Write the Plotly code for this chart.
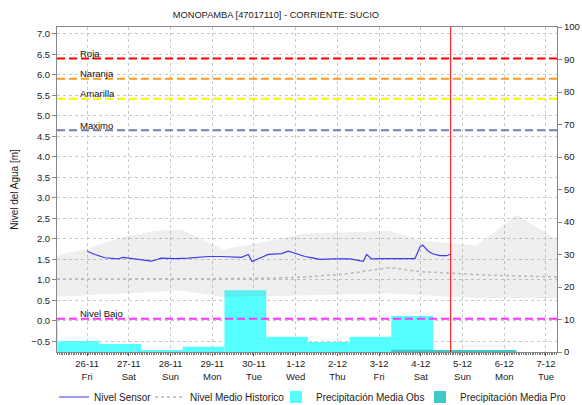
import plotly.graph_objects as go

# --- Nivel del sensor (m) ---
sensor_time = ["2021-11-26 00:00", "2021-11-26 04:26", "2021-11-26 10:12", "2021-11-26 17:53",
               "2021-11-26 20:46", "2021-11-27 03:27", "2021-11-27 13:03", "2021-11-27 15:56",
               "2021-11-27 18:26", "2021-11-28 02:28", "2021-11-28 10:08", "2021-11-28 21:39",
               "2021-11-29 05:21", "2021-11-29 16:52", "2021-11-29 20:40", "2021-11-29 22:58",
               "2021-11-30 04:22", "2021-11-30 08:11", "2021-11-30 15:53", "2021-11-30 19:41",
               "2021-11-30 23:33", "2021-12-01 05:18", "2021-12-01 08:11", "2021-12-01 13:56",
               "2021-12-01 21:36", "2021-12-02 07:12", "2021-12-02 14:51", "2021-12-02 16:48",
               "2021-12-02 19:41", "2021-12-03 04:19", "2021-12-03 20:37", "2021-12-03 23:28",
               "2021-12-04 01:02", "2021-12-04 04:15", "2021-12-04 07:08", "2021-12-04 10:59",
               "2021-12-04 14:51", "2021-12-04 17:10"]
sensor_level = [1.70, 1.62, 1.54, 1.51, 1.55, 1.51, 1.46, 1.49, 1.53, 1.52, 1.53, 1.57,
                1.57, 1.55, 1.62, 1.45, 1.55, 1.62, 1.64, 1.70, 1.65, 1.57, 1.55, 1.50,
                1.51, 1.51, 1.45, 1.62, 1.51, 1.52, 1.52, 1.80, 1.85, 1.70, 1.63, 1.59,
                1.59, 1.63]

# --- Nivel medio histórico (m) ---
hist_time = ["2021-11-25 06:40", "2021-11-27 00:00", "2021-11-29 00:00", "2021-11-30 12:00",
             "2021-12-01 06:00", "2021-12-02 06:00", "2021-12-03 06:00", "2021-12-04 00:00",
             "2021-12-05 12:00", "2021-12-07 06:20"]
hist_mean = [1.02, 1.02, 1.03, 1.04, 1.07, 1.15, 1.30, 1.20, 1.12, 1.07]

# --- Banda histórica (mín / máx) ---
band_hi_time = ["2021-11-25 06:40", "2021-11-26 00:00", "2021-11-26 19:58", "2021-11-27 14:58",
                "2021-11-28 06:20", "2021-11-29 06:16", "2021-11-30 00:31", "2021-12-01 05:18",
                "2021-12-03 06:13", "2021-12-03 23:28", "2021-12-05 08:07", "2021-12-06 07:08",
                "2021-12-07 02:18", "2021-12-07 06:20"]
band_hi = [1.60, 1.76, 2.04, 2.19, 2.23, 1.74, 1.88, 2.13, 2.19, 1.96, 1.84, 2.59, 2.09, 2.00]
band_lo_time = ["2021-11-25 06:40", "2021-11-28 06:20", "2021-11-29 06:16", "2021-12-01 05:18",
                "2021-12-03 06:13", "2021-12-05 08:07", "2021-12-07 06:20"]
band_lo = [0.59, 0.74, 0.58, 0.62, 0.67, 0.56, 0.56]

# --- Precipitación diaria (07:00 a 07:00) ---
obs_start = ["2021-11-24 07:00", "2021-11-25 07:00", "2021-11-26 07:00", "2021-11-27 07:00",
             "2021-11-28 07:00", "2021-11-29 07:00", "2021-11-30 07:00", "2021-12-01 07:00",
             "2021-12-02 07:00", "2021-12-03 07:00"]
obs_precip = [9.6, 3.4, 2.5, 0.4, 1.6, 19.0, 4.7, 3.1, 4.7, 11.1]
pro_start = ["2021-12-03 07:00", "2021-12-04 07:00", "2021-12-05 07:00"]
pro_precip = [0.7, 0.45, 0.45]

# --- Umbrales (m) ---
thr_names = ["Roja", "Naranja", "Amarilla", "Maximo", "Nivel Bajo"]
thr_values = [6.40, 5.91, 5.42, 4.65, 0.05]
thr_colors = ["#ff0000", "#ff9a1a", "#f5f500", "#7080a8", "#ff33ff"]

now_time = "2021-12-04 17:10"

# --- Eje x ---
day_ticks = ["2021-11-26", "2021-11-27", "2021-11-28", "2021-11-29", "2021-11-30", "2021-12-01",
             "2021-12-02", "2021-12-03", "2021-12-04", "2021-12-05", "2021-12-06", "2021-12-07"]
day_labels = ["26-11<br>Fri", "27-11<br>Sat", "28-11<br>Sun", "29-11<br>Mon", "30-11<br>Tue",
              "1-12<br>Wed", "2-12<br>Thu", "3-12<br>Fri", "4-12<br>Sat", "5-12<br>Sun",
              "6-12<br>Mon", "7-12<br>Tue"]

DAY_MS = 86400000
FONT = "Liberation Sans, Arial, sans-serif"
W, H = 582, 405

fig = go.Figure()

# Precipitation bars on the right-hand axis (y)
fig.add_trace(go.Bar(x=obs_start, y=obs_precip, width=[DAY_MS] * len(obs_start), offset=0,
                     marker=dict(color="#55ffff", line=dict(width=0)),
                     name="Precipitación Media Obs", yaxis="y", legend="legend3"))
fig.add_trace(go.Bar(x=pro_start, y=pro_precip, width=[DAY_MS] * len(pro_start), offset=0,
                     marker=dict(color="#3fc8c8", line=dict(width=0)),
                     name="Precipitación Media Pro", yaxis="y", legend="legend4"))

# Level traces on the left-hand axis (y2), drawn over the bars
fig.add_trace(go.Scatter(x=band_lo_time, y=band_lo, mode="lines", line=dict(width=0),
                         showlegend=False, hoverinfo="skip", yaxis="y2"))
fig.add_trace(go.Scatter(x=band_hi_time, y=band_hi, mode="lines", line=dict(width=0),
                         fill="tonexty", fillcolor="rgba(120,120,120,0.12)",
                         showlegend=False, hoverinfo="skip", yaxis="y2"))
fig.add_trace(go.Scatter(x=hist_time, y=hist_mean, mode="lines",
                         line=dict(color="#b8b8b8", width=1.5, dash="3px,3px"),
                         name="Nivel Medio Historico", yaxis="y2", legend="legend2"))
fig.add_trace(go.Scatter(x=sensor_time, y=sensor_level, mode="lines",
                         line=dict(color="#3b3bf0", width=1.2),
                         name="Nivel Sensor", yaxis="y2", legend="legend"))

# Threshold lines and labels
for name, val, col in zip(thr_names, thr_values, thr_colors):
    fig.add_shape(type="line", xref="paper", x0=0, x1=1, yref="y2", y0=val, y1=val,
                  line=dict(color=col, width=2, dash="8px,4px"), layer="above")
    fig.add_annotation(xref="paper", x=0.042, yref="y2", y=val, text=name, showarrow=False,
                       xanchor="left", yanchor="middle", yshift=5,
                       font=dict(family=FONT, size=9.5, color="#111"))

# Current time marker
fig.add_shape(type="line", xref="x", x0=now_time, x1=now_time, yref="paper", y0=0, y1=1,
              line=dict(color="#ff0000", width=1), layer="above")


def legend_at(px_left):
    # one-entry legend placed along the bottom strip
    return dict(orientation="h", xref="container", x=px_left / W, xanchor="left",
                yref="container", y=1 - 397 / H, yanchor="middle", itemwidth=30,
                font=dict(family=FONT, size=10, color="#222"), bgcolor="rgba(0,0,0,0)",
                borderwidth=0)


grid_col = "#c8c8c8"
fig.update_layout(
    width=W, height=H,
    margin=dict(l=57, r=25, t=27, b=53, autoexpand=False),
    paper_bgcolor="white", plot_bgcolor="white",
    font=dict(family=FONT, size=10, color="#222"),
    title=dict(text="MONOPAMBA [47017110] - CORRIENTE: SUCIO", x=0.474, xanchor="center",
               y=0.963, yanchor="middle", font=dict(family=FONT, size=9.3, color="#222")),
    barmode="overlay",
    showlegend=True,
    legend=legend_at(54),
    legend2=legend_at(150),
    legend3=legend_at(276),
    legend4=legend_at(420),
    xaxis=dict(type="date", range=["2021-11-25 06:40", "2021-12-07 06:20"],
               tickmode="array", tickvals=day_ticks, ticktext=day_labels,
               showgrid=True, gridcolor=grid_col, griddash="dot", gridwidth=1,
               showline=True, linecolor="#888", mirror=True, linewidth=1,
               ticks="outside", ticklen=3, tickcolor="#555",
               minor=dict(dtick=3600000, ticks="outside", ticklen=2, tickcolor="#777"),
               tickfont=dict(family=FONT, size=9.5, color="#222"), zeroline=False),
    yaxis=dict(range=[0, 100], side="right", tickmode="linear", tick0=0, dtick=10,
               showgrid=False, zeroline=False, showline=True, linecolor="#888",
               ticks="outside", ticklen=4, tickcolor="#888",
               tickfont=dict(family=FONT, size=9.5, color="#222")),
    yaxis2=dict(range=[-0.76, 7.17], side="left", overlaying="y", tickmode="linear",
                tick0=-0.5, dtick=0.5, tickformat=".1f",
                showgrid=True, gridcolor=grid_col, griddash="dot", gridwidth=1,
                zeroline=False, showline=True, linecolor="#888",
                ticks="outside", ticklen=4, tickcolor="#888",
                tickfont=dict(family=FONT, size=9.5, color="#222"),
                title=dict(text="Nivel del Agua [m]", standoff=10,
                           font=dict(family=FONT, size=10, color="#222"))),
)

fig.write_html("out.html")
